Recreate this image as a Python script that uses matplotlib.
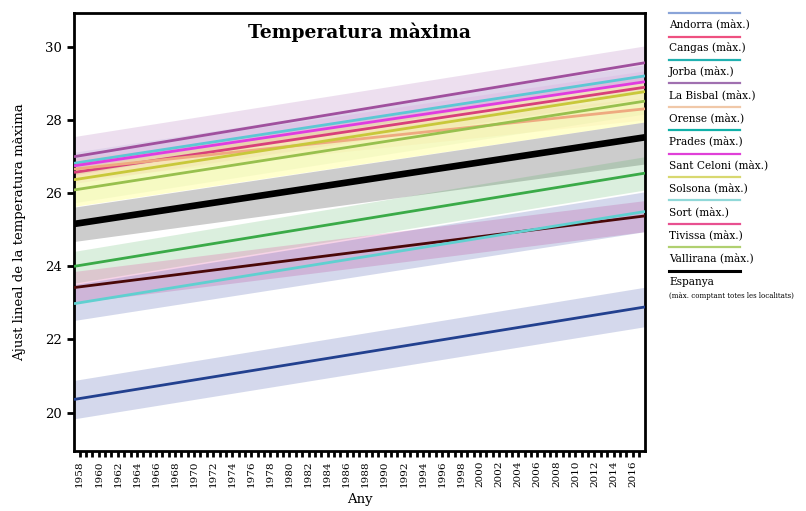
import numpy as np
import matplotlib
matplotlib.use("Agg")
import matplotlib.pyplot as plt
from matplotlib.lines import Line2D
from matplotlib.ticker import MultipleLocator

plt.rcParams["font.family"] = ["DejaVu Serif", "DejaVu Sans"]

# ends of the fitted lines (left and right edges of the plot)
fit_years = [1957.4, 2017.3]

series = ["La Bisbal", "Sort", "Sant Celoni", "Tivissa", "Orense", "Solsona",
          "Vallirana", "Espanya", "Prades", "Cangas", "Jorba", "Andorra"]
fit_start = [27.00, 26.82, 26.75, 26.57, 26.66, 26.37, 26.09, 25.16, 24.00, 23.42, 22.98, 20.36]
fit_end = [29.57, 29.21, 29.05, 28.90, 28.31, 28.78, 28.52, 27.53, 26.55, 25.38, 25.50, 22.89]
low_start = [26.50, 26.52, 26.45, 26.27, 26.36, 25.64, 25.74, 24.68, 23.54, 23.00, 22.52, 19.83]
low_end = [29.10, 28.91, 28.75, 28.60, 28.01, 27.95, 28.17, 26.80, 26.09, 24.95, 24.95, 22.35]
high_start = [27.55, 27.12, 27.05, 26.87, 26.96, 26.70, 26.44, 25.62, 24.41, 23.86, 23.50, 20.88]
high_end = [30.03, 29.51, 29.35, 29.20, 28.61, 29.10, 28.87, 27.95, 27.00, 25.80, 26.04, 23.43]

line_colors = ["#a0509e", "#5cc8d4", "#e03ce0", "#d8407a", "#eeaa80", "#c8c83a",
               "#98c04e", "#000000", "#3aaa48", "#4a0808", "#60d0d0", "#22408f"]
band_colors = ["#b070b8", "#9090d0", "#d070d0", "#e070a0", "#f0c090", "#ffff70",
               "#c8e090", "#000000", "#3aaa48", "#e050a0", "#2a40a0", "#2a40a0"]
band_alpha = [0.22, 0.15, 0.12, 0.12, 0.15, 0.35, 0.15, 0.2, 0.18, 0.25, 0.2, 0.2]
line_widths = [2, 2, 2, 2, 2, 2, 2, 4.8, 2, 2, 2, 2]

# legend on the right side (as in the original graphic)
legend_labels = ["Andorra (màx.)", "Cangas (màx.)", "Jorba (màx.)", "La Bisbal (màx.)",
                 "Orense (màx.)", "Prades (màx.)", "Sant Celoni (màx.)", "Solsona (màx.)",
                 "Sort (màx.)", "Tivissa (màx.)", "Vallirana (màx.)", "Espanya"]
legend_colors = ["#8aa4d8", "#ee5080", "#20b0b0", "#a070b0", "#f0c8a8", "#10b0a8",
                 "#e040d8", "#d8d870", "#90d8d8", "#e85090", "#b0d070", "#000000"]

W, H = 806, 511
fig = plt.figure(figsize=(W / 100, H / 100), dpi=100)
ax = fig.add_axes([74 / W, 1 - 451 / H, (645 - 74) / W, (451 - 13) / H])

for i in range(len(series)):
    ax.fill_between(fit_years, [low_start[i], low_end[i]], [high_start[i], high_end[i]],
                    color=band_colors[i], alpha=band_alpha[i], linewidth=0)
for i in range(len(series)):
    ax.plot(fit_years, [fit_start[i], fit_end[i]], color=line_colors[i],
            lw=line_widths[i], solid_capstyle="butt", zorder=3 + (i == 7))

ax.set_xlim(fit_years)
ax.set_ylim(18.95, 30.93)
ax.set_yticks(np.arange(20, 31, 2))
ax.set_xticks(np.arange(1958, 2017, 2))
ax.set_xticklabels([str(y) for y in range(1958, 2017, 2)], rotation=90, fontsize=7.5)
ax.xaxis.set_minor_locator(MultipleLocator(2 / 3))
ax.tick_params(axis="x", which="both", direction="out", length=4, width=2, pad=3)
ax.tick_params(axis="y", direction="out", length=5, width=2, labelsize=9.5)
for sp in ax.spines.values():
    sp.set_linewidth(2)

ax.set_xlabel("Any", fontsize=9.5, labelpad=4)
ax.set_ylabel("Ajust lineal de la temperatura màxima", fontsize=9.5, labelpad=14)
ax.text(0.5, 0.955, "Temperatura màxima", transform=ax.transAxes, ha="center", va="center",
        fontsize=13.5, fontweight="bold")

# manual legend
for i, (lab, col) in enumerate(zip(legend_labels, legend_colors)):
    ly = 13.3 + i * 23.4
    fig.add_artist(Line2D([669 / W, 740 / W], [1 - ly / H, 1 - ly / H], color=col,
                          lw=2.2 if col == "#000000" else 1.6, transform=fig.transFigure))
    fig.text(669 / W, 1 - (ly + 11) / H, lab, fontsize=7.6, va="center", ha="left")
fig.text(669 / W, 1 - 296 / H, "(màx. comptant totes les localitats)", fontsize=5,
         va="center", ha="left")

fig.savefig("out.png", dpi=100)
